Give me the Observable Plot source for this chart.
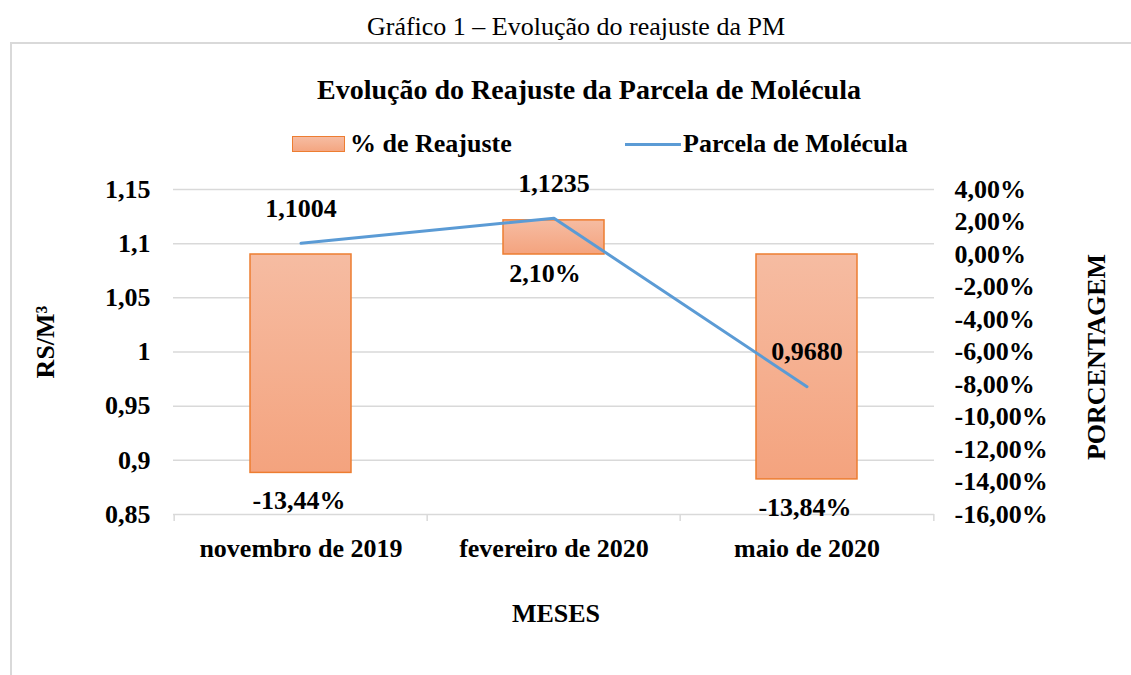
<!DOCTYPE html>
<html>
<head>
<meta charset="utf-8">
<script src="https://cdn.jsdelivr.net/npm/d3@7"></script>
<script src="https://cdn.jsdelivr.net/npm/@observablehq/plot@0.6"></script>
<style>
  html, body { margin: 0; padding: 0; background: #fff; }
  #wrap { position: relative; width: 1131px; height: 675px; overflow: hidden; font-family: "Liberation Serif", "Times New Roman", serif; color: #000; }
  #caption { position: absolute; left: 0; width: 1152px; top: 11px; text-align: center; font-size: 26px; line-height: 32px; }
  #box { position: absolute; left: 10px; top: 42px; width: 1140px; height: 660px; border: 2px solid #d9d9d9; box-sizing: border-box; }
  #title { position: absolute; left: 0; width: 1178px; top: 73px; text-align: center; font-size: 28px; font-weight: bold; line-height: 34px; }
  .leg { position: absolute; font-weight: bold; font-size: 26px; line-height: 30px; }
  #chart { position: absolute; left: 0; top: 160px; }
</style>
</head>
<body>
<div id="wrap">
  <div id="caption">Gráfico 1 – Evolução do reajuste da PM</div>
  <div id="box"></div>
  <div id="title">Evolução do Reajuste da Parcela de Molécula</div>
  <div id="legend"></div>
  <div id="chart"></div>
</div>
<script>
// ---- data ----
const categories = ["novembro de 2019", "fevereiro de 2020", "maio de 2020"];
const reajuste = [-13.44, 2.10, -13.84];          // % de Reajuste (right axis)
const parcela = [1.1004, 1.1235, 0.9680];        // Parcela de Molécula, R$/m³ (left axis)
const leftTicks = [0.85, 0.9, 0.95, 1, 1.05, 1.1, 1.15];
const rightTicks = [-16, -14, -12, -10, -8, -6, -4, -2, 0, 2, 4];
const seriesNames = ["% de Reajuste", "Parcela de Molécula"];

// right-axis (percent) domain mapped onto the left-axis domain
const leftDomain = [0.85, 1.15];
const rightDomain = [-16, 4];
const pctToY = p => leftDomain[0] + (p - rightDomain[0]) / (rightDomain[1] - rightDomain[0]) * (leftDomain[1] - leftDomain[0]);
const yToPct = y => rightDomain[0] + (y - leftDomain[0]) / (leftDomain[1] - leftDomain[0]) * (rightDomain[1] - rightDomain[0]);

const data = categories.map((c, i) => ({cat: c, pct: reajuste[i], pm: parcela[i]}));

const fmtComma = (v, d) => v.toFixed(d).replace(".", ",");
const fmtLeft = v => String(+v.toFixed(2)).replace(".", ",");
const fmtPct = p => fmtComma(p, 2) + "%";

// ---- layout ----
const W = 1131, H = 480;
const mL = 173, mR = 197, mT = 29, mB = 126;
const step = (W - mL - mR) / categories.length;
const FS = 26;

// ---- legend ----
const legend = document.getElementById("legend");
legend.innerHTML = `
  <div style="position:absolute;left:292px;top:136px;width:53px;height:16px;box-sizing:border-box;border:1.5px solid #ed7d31;background:linear-gradient(#f6bca2,#f4a681);"></div>
  <div class="leg" style="left:350px;top:129px;">${seriesNames[0]}</div>
  <div style="position:absolute;left:625px;top:142.5px;width:56px;height:3px;background:#5b9bd5;"></div>
  <div class="leg" style="left:683px;top:129px;">${seriesNames[1]}</div>`;

const chart = Plot.plot({
  width: W,
  height: H,
  marginLeft: mL,
  marginRight: mR,
  marginTop: mT,
  marginBottom: mB,
  style: {fontFamily: "'Liberation Serif', 'Times New Roman', serif", fontSize: FS + "px", fontWeight: "bold", color: "#000", background: "transparent", overflow: "visible"},
  x: {type: "band", domain: categories, paddingInner: 0.6, paddingOuter: 0.3},
  y: {domain: leftDomain},
  marks: [
    Plot.gridY(leftTicks.filter(t => t > leftDomain[0]), {stroke: "#d9d9d9", strokeOpacity: 1, strokeWidth: 1.5}),
    Plot.ruleY([leftDomain[0]], {stroke: "#d9d9d9", strokeWidth: 1.5}),
    Plot.ruleX(categories, {x: d => d, dx: -step / 2, y1: leftDomain[0], y2: leftDomain[0], insetBottom: -7, stroke: "#d9d9d9", strokeWidth: 1.5}),
    Plot.ruleX(categories.slice(-1), {x: d => d, dx: step / 2, y1: leftDomain[0], y2: leftDomain[0], insetBottom: -7, stroke: "#d9d9d9", strokeWidth: 1.5}),
    Plot.axisY({ticks: leftTicks, tickFormat: fmtLeft, tickSize: 0, tickPadding: 23, label: null, fontWeight: "bold", fontSize: FS}),
    Plot.axisY({anchor: "right", ticks: rightTicks.map(pctToY), tickFormat: y => fmtPct(Math.round(yToPct(y))), tickSize: 0, tickPadding: 20, label: null, fontWeight: "bold", fontSize: FS}),
    Plot.axisX({tickSize: 0, tickPadding: 24, label: null, fontWeight: "bold", fontSize: FS}),
    Plot.barY(data, {x: "cat", y1: pctToY(0), y2: d => pctToY(d.pct), fill: "url(#barGrad)", stroke: "#ed7d31", strokeWidth: 1.5}),
    Plot.line(data, {x: "cat", y: "pm", stroke: "#5b9bd5", strokeWidth: 3}),
    Plot.text(data, {x: "cat", y: "pm", text: d => fmtComma(d.pm, 4), dy: -35, fontSize: FS, fontWeight: "bold"}),
    Plot.text(data.filter(d => d.pct < 0), {x: "cat", y: d => pctToY(d.pct), text: d => fmtPct(d.pct), dy: 28, dx: -2, fontSize: FS, fontWeight: "bold"}),
    Plot.text(data.filter(d => d.pct >= 0), {x: "cat", y: pctToY(0), text: d => fmtPct(d.pct), dy: 19, dx: -9, fontSize: FS, fontWeight: "bold"}),
    Plot.text(["RS/M³"], {frameAnchor: "left", textAnchor: "middle", lineAnchor: "middle", dx: -128, dy: -10, rotate: -90, fontSize: FS, fontWeight: "bold"}),
    Plot.text(["PORCENTAGEM"], {frameAnchor: "right", textAnchor: "middle", lineAnchor: "middle", dx: 162, dy: 5, rotate: -90, fontSize: FS, fontWeight: "bold"}),
    Plot.text(["MESES"], {frameAnchor: "bottom", lineAnchor: "middle", dx: 2, dy: 99, fontSize: FS, fontWeight: "bold"})
  ]
});

const ns = "http://www.w3.org/2000/svg";
const defs = document.createElementNS(ns, "defs");
const grad = document.createElementNS(ns, "linearGradient");
grad.setAttribute("id", "barGrad");
grad.setAttribute("x1", "0"); grad.setAttribute("y1", "0");
grad.setAttribute("x2", "0"); grad.setAttribute("y2", "1");
[["0%", "#f6bca2"], ["100%", "#f4a37e"]].forEach(([o, c]) => {
  const s = document.createElementNS(ns, "stop");
  s.setAttribute("offset", o); s.setAttribute("stop-color", c);
  grad.appendChild(s);
});
defs.appendChild(grad);
chart.insertBefore(defs, chart.firstChild);
document.getElementById("chart").appendChild(chart);
</script>
</body>
</html>
